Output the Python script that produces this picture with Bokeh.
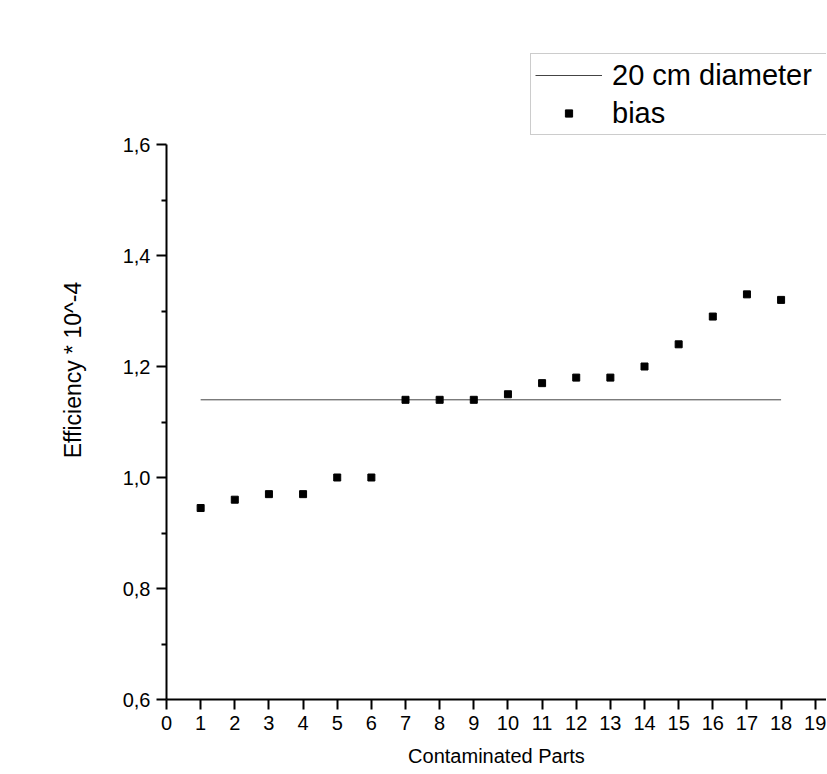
from bokeh.plotting import figure
from bokeh.models import FixedTicker, Legend, LegendItem, Range1d
from bokeh.embed import file_html
from bokeh.resources import INLINE

# ---- data ----
parts = [1, 2, 3, 4, 5, 6, 7, 8, 9, 10, 11, 12, 13, 14, 15, 16, 17, 18]
bias = [0.945, 0.96, 0.97, 0.97, 1.0, 1.0, 1.14, 1.14, 1.14, 1.15,
        1.17, 1.18, 1.18, 1.20, 1.24, 1.29, 1.33, 1.32]
diameter_x = [1, 18]
diameter_y = [1.14, 1.14]
x_ticks = list(range(0, 20))
y_ticks = [0.6, 0.8, 1.0, 1.2, 1.4, 1.6]
y_tick_labels = ["0,6", "0,8", "1,0", "1,2", "1,4", "1,6"]
y_minor = [0.7, 0.9, 1.1, 1.3, 1.5]

FONT = "Liberation Sans"

# frame reaches up to the legend; the y axis itself stops at 1.6 via bounds
p = figure(frame_width=660, frame_height=659,
           x_range=Range1d(0, 19.33), y_range=Range1d(0.6, 1.7874),
           output_backend="svg", toolbar_location=None,
           min_border_left=166, min_border_top=40,
           min_border_right=0, min_border_bottom=10,
           outline_line_color=None, background_fill_color="white",
           border_fill_color="white")
p.grid.visible = False

line_r = p.line(diameter_x, diameter_y, line_color="#444444", line_width=1)
sc_r = p.scatter(parts, bias, marker="square", size=7,
                 fill_color="black", line_color="black")

# axes
for ax in (p.xaxis[0], p.yaxis[0]):
    ax.axis_line_color = "black"
    ax.axis_line_width = 2
    ax.major_tick_line_color = "black"
    ax.major_tick_line_width = 2
    ax.major_tick_in = 0
    ax.major_tick_out = 10
    ax.minor_tick_line_color = "black"
    ax.minor_tick_line_width = 2
    ax.minor_tick_in = 0
    ax.minor_tick_out = 5
    ax.major_label_text_font = FONT
    ax.major_label_text_font_size = "20px"
    ax.major_label_text_color = "black"
    ax.axis_label_text_font = FONT
    ax.axis_label_text_font_style = "normal"
    ax.axis_label_text_color = "black"

p.xaxis.ticker = FixedTicker(ticks=x_ticks)
p.xaxis.major_label_standoff = 6
p.xaxis.axis_label = "Contaminated Parts"
p.xaxis.axis_label_text_font_size = "20px"
p.xaxis.axis_label_standoff = 12

p.yaxis.ticker = FixedTicker(ticks=y_ticks, minor_ticks=y_minor)
p.yaxis.bounds = (0.6, 1.6)
p.yaxis.major_label_overrides = {t: l for t, l in zip(y_ticks, y_tick_labels)}
p.yaxis.major_label_standoff = 6
p.yaxis.axis_label = "Efficiency * 10^-4"
p.yaxis.axis_label_text_font_size = "23px"
p.yaxis.axis_label_standoff = 34

legend = Legend(items=[LegendItem(label="20 cm diameter", renderers=[line_r]),
                       LegendItem(label="bias", renderers=[sc_r])],
                location=(364, 564), orientation="vertical",
                glyph_width=67, glyph_height=18, label_height=34,
                label_width=220,
                label_standoff=10, spacing=4, padding=4, margin=0,
                label_text_font=FONT, label_text_font_size="29px",
                label_text_color="black",
                border_line_color="#999999", border_line_width=1,
                background_fill_color="white", background_fill_alpha=1.0)
p.add_layout(legend, "center")

open("out.html", "w").write(file_html(p, INLINE))
